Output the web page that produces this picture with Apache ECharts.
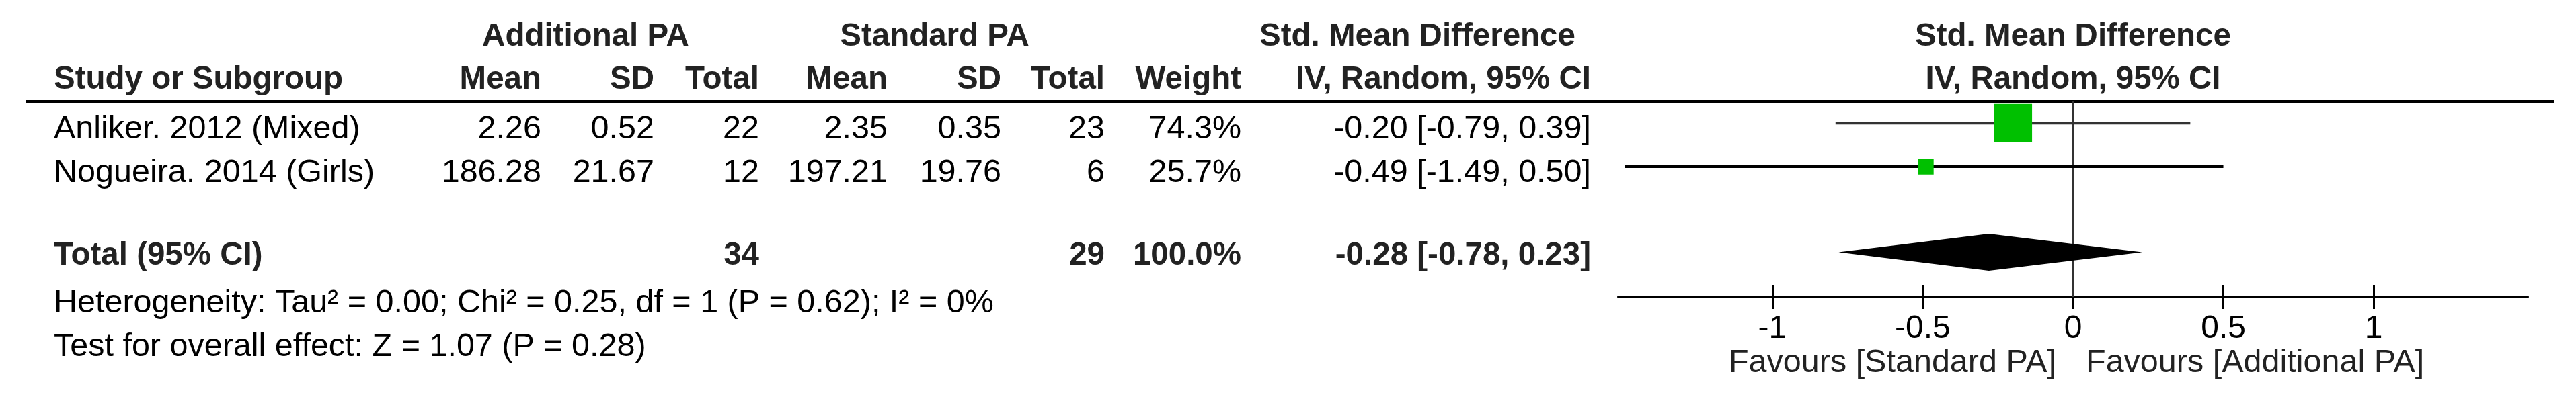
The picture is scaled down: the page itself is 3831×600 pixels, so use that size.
<!DOCTYPE html>
<html><head><meta charset="utf-8">
<script src="https://cdn.jsdelivr.net/npm/echarts@6/dist/echarts.min.js"></script>
<style>html,body{margin:0;padding:0;background:#fff}#c{width:3831px;height:600px}</style>
</head><body><div id="c"></div>
<script>
// ---------------- data ----------------
const studies = ['Anliker. 2012 (Mixed)', 'Nogueira. 2014 (Girls)'];
const addMean = [2.26, 186.28];
const addSD = [0.52, 21.67];
const addN = [22, 12];
const stdMean = [2.35, 197.21];
const stdSD = [0.35, 19.76];
const stdN = [23, 6];
const weights = [74.3, 25.7];
const smd = [-0.20, -0.49];
const ciLow = [-0.79, -1.49];
const ciHigh = [0.39, 0.50];
const totalLabel = 'Total (95% CI)';
const totalAddN = 34;
const totalStdN = 29;
const totalWeight = 100.0;
const totalSmd = -0.28;
const totalLow = -0.78;
const totalHigh = 0.23;
const heterogeneity = 'Heterogeneity: Tau\u00b2 = 0.00; Chi\u00b2 = 0.25, df = 1 (P = 0.62); I\u00b2 = 0%';
const overallTest = 'Test for overall effect: Z = 1.07 (P = 0.28)';
const tickValues = [-1, -0.5, 0, 0.5, 1];
const favoursLeft = 'Favours [Standard PA]';
const favoursRight = 'Favours [Additional PA]';
const groupHeaders = ['Additional PA', 'Standard PA', 'Std. Mean Difference', 'Std. Mean Difference'];
const colHeaders = ['Study or Subgroup', 'Mean', 'SD', 'Total', 'Mean', 'SD', 'Total', 'Weight', 'IV, Random, 95% CI', 'IV, Random, 95% CI'];

// ---------------- layout / style ----------------
const FONT = '"Liberation Sans", Arial, sans-serif';
const FS = 48.5;      // regular text
const FSB = 47.5;     // bold text
const DARK = '#222';
const rowPos = [1, 2];
const totalPos = 3.97;
const rowBase = [209, 274];
const totalBase = 397;
const head1Base = 71, head2Base = 135;
const hetBase = 468, testBase = 533, favBase = 557;
const nameX = 80;
const colRight = [805, 973, 1129, 1320, 1489, 1643, 1846, 2366];
const plotCenterX = 3083;
const groupCenters = [871, 1390, 2108, 3083];
const ciColors = ['#333', '#000'];

const f2 = v => v.toFixed(2);
const ciText = (m, l, h) => `${f2(m)} [${f2(l)}, ${f2(h)}]`;

function txt(x, base, s, align, bold, fill) {
  const fs = bold ? FSB : FS;
  return {
    type: 'text', x: x, y: base - 0.347 * fs, silent: true,
    style: {
      text: s, fontSize: fs, fontFamily: FONT, fontWeight: bold ? 'bold' : 'normal',
      fill: fill || '#000', align: align, verticalAlign: 'middle'
    }
  };
}

const g = [];
// header rows
groupCenters.forEach((cx, i) => g.push(txt(cx, head1Base, groupHeaders[i], 'center', true, DARK)));
g.push(txt(nameX, head2Base, colHeaders[0], 'left', true, DARK));
for (let i = 0; i < 8; i++) g.push(txt(colRight[i], head2Base, colHeaders[i + 1], 'right', true, DARK));
g.push(txt(plotCenterX, head2Base, colHeaders[9], 'center', true, DARK));
// header rule
g.push({ type: 'line', silent: true, z: 0, shape: { x1: 38, y1: 151, x2: 3799, y2: 151 }, style: { stroke: '#000', lineWidth: 4 } });
// study rows
studies.forEach((s, i) => {
  const b = rowBase[i];
  const vals = [f2(addMean[i]), f2(addSD[i]), String(addN[i]), f2(stdMean[i]), f2(stdSD[i]), String(stdN[i]),
    weights[i].toFixed(1) + '%', ciText(smd[i], ciLow[i], ciHigh[i])];
  g.push(txt(nameX, b, s, 'left', false));
  vals.forEach((v, j) => g.push(txt(colRight[j], b, v, 'right', false)));
});
// total row
g.push(txt(nameX, totalBase, totalLabel, 'left', true, DARK));
g.push(txt(colRight[2], totalBase, String(totalAddN), 'right', true, DARK));
g.push(txt(colRight[5], totalBase, String(totalStdN), 'right', true, DARK));
g.push(txt(colRight[6], totalBase, totalWeight.toFixed(1) + '%', 'right', true, DARK));
g.push(txt(colRight[7], totalBase, ciText(totalSmd, totalLow, totalHigh), 'right', true, DARK));
g.push(txt(nameX, hetBase, heterogeneity, 'left', false));
g.push(txt(nameX, testBase, overallTest, 'left', false));
g.push(txt(plotCenterX - 25, favBase, favoursLeft, 'right', false, DARK));
g.push(txt(plotCenterX + 19, favBase, favoursRight, 'left', false, DARK));

const chart = echarts.init(document.getElementById('c'), null, { renderer: 'canvas' });
const axisCommon = { type: 'value', min: -1.512, max: 1.512, position: 'bottom', splitLine: { show: false } };
chart.setOption({
  animation: false,
  backgroundColor: '#fff',
  grid: { left: 2407, right: 72, top: 151, bottom: 158, containLabel: false },
  xAxis: [
    Object.assign({}, axisCommon, {
      axisLine: { show: true, onZero: false, lineStyle: { color: '#000', width: 4 } },
      axisTick: { show: true, inside: true, length: 17, customValues: tickValues, lineStyle: { color: '#000', width: 3 } },
      axisLabel: { show: true, customValues: tickValues, margin: 24, color: '#000', fontSize: 48, fontFamily: FONT }
    }),
    Object.assign({}, axisCommon, {
      axisLine: { show: false, onZero: false },
      axisTick: { show: true, inside: false, length: 18, customValues: tickValues, lineStyle: { color: '#000', width: 3 } },
      axisLabel: { show: false }
    })
  ],
  yAxis: { type: 'value', min: 0.5, max: 5, inverse: true, show: false },
  graphic: g,
  series: [
    {
      type: 'line', xAxisIndex: 0, z: 1, symbol: 'none', silent: true,
      data: [[0, 0.5], [0, 5]], lineStyle: { color: '#333', width: 4 }
    },
    {
      type: 'custom', xAxisIndex: 0, z: 2, silent: true,
      data: smd.map((m, i) => [ciLow[i], ciHigh[i], rowPos[i], i]),
      renderItem: (params, api) => {
        const p1 = api.coord([api.value(0), api.value(2)]);
        const p2 = api.coord([api.value(1), api.value(2)]);
        return { type: 'line', shape: { x1: p1[0], y1: p1[1], x2: p2[0], y2: p2[1] },
          style: { stroke: ciColors[api.value(3)], lineWidth: 4 } };
      }
    },
    {
      type: 'scatter', xAxisIndex: 0, z: 3, silent: true, symbol: 'rect',
      data: smd.map((m, i) => [m, rowPos[i], weights[i]]),
      symbolSize: v => 5.8 + 0.689 * v[2],
      itemStyle: { color: '#00C000', opacity: 1 }
    },
    {
      type: 'custom', xAxisIndex: 0, z: 3, silent: true,
      data: [[totalLow, totalSmd, totalHigh, totalPos]],
      renderItem: (params, api) => {
        const y = api.value(3);
        const l = api.coord([api.value(0), y]);
        const m = api.coord([api.value(1), y]);
        const r = api.coord([api.value(2), y]);
        const h = 27.5;
        return { type: 'polygon', shape: { points: [[l[0], l[1]], [m[0], m[1] - h], [r[0], r[1]], [m[0], m[1] + h]] },
          style: { fill: '#000' } };
      }
    }
  ]
});
</script></body></html>
